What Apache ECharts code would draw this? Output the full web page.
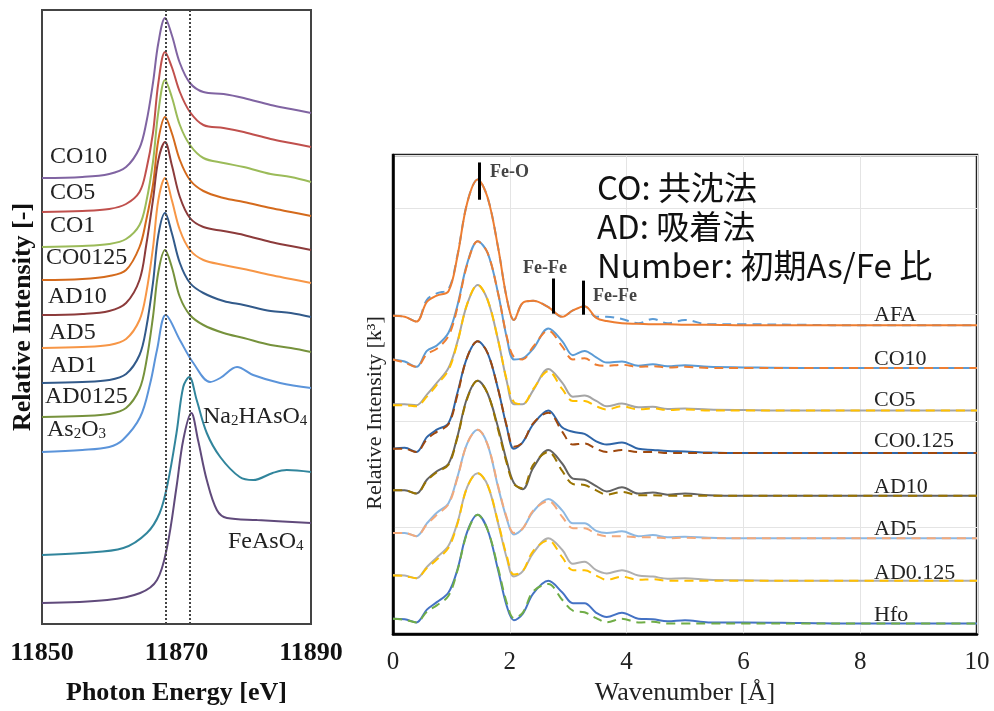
<!DOCTYPE html>
<html>
<head>
<meta charset="utf-8">
<script src="https://cdn.jsdelivr.net/npm/echarts@6/dist/echarts.min.js"></script>
<style>
  html, body { margin: 0; padding: 0; background: #fff; }
  #chart { width: 994px; height: 711px; }
</style>
</head>
<body>
<div id="chart"></div>
<script>
// ---- left panel: XANES spectra (stacked) ----
const energyGrid = [11850, 11856, 11860, 11862.5, 11864.5, 11865.5, 11866.5, 11867.3, 11868.3, 11869.3, 11870.5, 11872, 11874, 11877, 11880, 11884, 11887, 11890];
const co10 = [44.6, 44.7, 45.0, 45.7, 47.6, 50.1, 54.1, 58.1, 60.6, 58.9, 56.1, 54.1, 53.2, 53.0, 52.6, 51.9, 51.5, 51.1];
const co5 = [41.2, 41.3, 41.5, 42.0, 43.2, 45.4, 49.1, 54.1, 57.2, 55.7, 53.2, 51.2, 49.9, 49.6, 49.2, 48.5, 48.1, 47.7];
const co1 = [37.7, 37.8, 38.0, 38.5, 39.9, 42.2, 46.2, 51.2, 54.4, 52.7, 49.9, 47.9, 46.6, 46.1, 45.7, 45.0, 44.7, 44.2];
const co0125 = [34.4, 34.5, 34.8, 35.4, 37.7, 40.4, 43.9, 48.4, 50.7, 49.1, 46.4, 44.4, 43.3, 42.6, 42.2, 41.6, 41.2, 40.8];
const ad10 = [30.9, 31.0, 31.3, 32.1, 34.4, 37.9, 42.4, 46.4, 48.2, 45.9, 42.7, 40.6, 39.7, 39.3, 38.9, 38.2, 37.8, 37.4];
const ad5 = [27.6, 27.7, 27.9, 28.5, 30.4, 33.1, 37.6, 42.4, 44.6, 42.4, 39.4, 37.4, 36.4, 35.9, 35.5, 34.9, 34.5, 34.1];
const ad1 = [24.1, 24.2, 24.4, 25.0, 26.9, 29.6, 34.1, 38.9, 41.1, 39.1, 36.1, 34.1, 33.1, 32.3, 31.9, 31.3, 31.1, 30.7];
const ad0125 = [20.7, 20.8, 21.0, 21.6, 23.5, 26.2, 30.7, 35.2, 37.4, 35.7, 32.7, 30.9, 29.9, 29.1, 28.6, 27.9, 27.6, 27.2];

const as2o3Energy = [11850, 11856, 11860, 11862, 11864.6, 11866.1, 11867.1, 11868.4, 11870.5, 11872.5, 11875, 11876.5, 11879, 11881.4, 11885.4, 11890];
const as2o3 = [17.2, 17.4, 17.7, 18.4, 20.7, 24.1, 27.4, 30.9, 28.4, 26.1, 24.2, 24.6, 25.7, 24.9, 24.1, 23.6];

const na2hasEnergy = [11850, 11856, 11862.1, 11865.6, 11867.5, 11868.7, 11870, 11871, 11871.9, 11873, 11874.5, 11876.5, 11879.4, 11881.4, 11884.3, 11886.4, 11890];
const na2has = [6.9, 7.1, 7.6, 9.1, 11.1, 14.1, 19.1, 23.7, 24.7, 22.4, 19.1, 16.7, 14.7, 14.4, 15.1, 15.4, 15.2];

const feasEnergy = [11850, 11859.7, 11864.6, 11867.1, 11868.6, 11870, 11871, 11872.2, 11873.2, 11874.5, 11876, 11877.5, 11882, 11890];
const feas = [2.1, 2.4, 3.1, 4.4, 7.7, 13.7, 18.4, 21.1, 18.4, 14.4, 11.4, 10.6, 10.4, 10.1];

const edgeLines = [11868.4, 11872.0];
const energyTicks = [11850, 11870, 11890];

// ---- right panel: radial distribution (solid = measured, dashed = fit) ----
const rGrid = [0, 0.2, 0.4, 0.58, 0.75, 0.95, 1.1, 1.27, 1.45, 1.62, 1.8, 1.95, 2.07, 2.22, 2.4, 2.66, 2.9, 3.08, 3.28, 3.48, 3.66, 3.92, 4.2, 4.45, 4.7, 5.0, 5.4, 6, 7, 8, 9, 10];
const rdfNames = ['AFA', 'CO10', 'CO5', 'CO0.125', 'AD10', 'AD5', 'AD0.125', 'Hfo'];
const rdfOffsets = [29, 25, 21, 17, 13, 9, 5, 1];

const afaSolid = [0.9, 0.8, 0.35, 2.2, 2.8, 3.2, 6.4, 11.5, 13.7, 12.0, 7.3, 2.5, 0.5, 2.1, 2.3, 1.7, 0.8, 1.4, 1.8, 0.7, 0.4, 0.2, 0.15, 0.1, 0.1, 0.05, 0.05, 0, 0, 0, 0, 0];
const afaDash = [0.9, 0.8, 0.35, 2.4, 3.0, 3.4, 6.5, 11.5, 13.7, 12.0, 7.3, 2.5, 0.5, 2.1, 2.3, 1.7, 0.8, 1.4, 1.8, 0.8, 0.8, 0.6, 0.2, 0.6, 0.2, 0.5, 0.1, 0.1, 0.05, 0, 0, 0];
const co10Solid = [0.8, 0.6, 0.1, 1.6, 2.1, 3.3, 5.8, 9.8, 11.9, 10.8, 7.0, 2.8, 0.8, 0.9, 1.8, 3.7, 2.5, 1.2, 1.6, 1.0, 0.5, 0.6, 0.2, 0.35, 0.15, 0.25, 0.1, 0.05, 0, 0, 0, 0];
const co10Dash = [0.8, 0.5, 0.1, 1.3, 1.8, 3.0, 5.6, 9.7, 11.9, 10.8, 7.0, 2.9, 1.0, 0.8, 2.0, 3.5, 2.0, 0.8, 0.9, 0.3, 0.2, 0.3, 0.1, 0.15, 0.05, 0.1, 0, 0, 0, 0, 0, 0];
const co5Solid = [0.6, 0.6, 0.5, 1.5, 2.6, 4.0, 6.4, 10.0, 11.8, 10.4, 6.6, 2.7, 0.6, 0.6, 1.9, 3.9, 2.6, 1.3, 1.4, 0.9, 0.4, 0.65, 0.3, 0.35, 0.15, 0.2, 0.1, 0.05, 0, 0, 0, 0];
const co5Dash = [0.5, 0.5, 0.4, 1.3, 2.4, 3.8, 6.3, 10.0, 11.8, 10.4, 6.6, 2.8, 0.8, 0.6, 2.0, 3.7, 2.0, 0.9, 0.9, 0.4, 0.1, 0.4, 0.1, 0.2, 0.05, 0.1, 0, 0, 0, 0, 0, 0];
const co0125Solid = [0.4, 0.5, 0.1, 1.5, 2.2, 2.8, 5.6, 9.0, 10.5, 9.4, 6.0, 2.4, 0.4, 1.0, 2.7, 4.0, 2.4, 2.0, 1.8, 1.1, 0.8, 1.0, 0.4, 0.3, 0.2, 0.15, 0.05, 0, 0, 0, 0, 0];
const co0125Dash = [0.4, 0.4, 0.1, 1.3, 2.0, 2.7, 5.4, 9.0, 10.5, 9.4, 6.0, 2.5, 0.6, 1.0, 2.8, 3.8, 2.0, 0.8, 0.9, 0.4, 0.1, 0.3, 0.1, 0.1, 0, 0, 0, 0, 0, 0, 0, 0];
const ad10Solid = [0.5, 0.5, 0.2, 1.5, 2.3, 3.0, 5.5, 9.2, 10.8, 9.6, 6.4, 3.2, 1.2, 0.6, 2.6, 4.3, 3.0, 1.6, 1.5, 0.9, 0.4, 0.8, 0.2, 0.3, 0.1, 0.2, 0.05, 0, 0, 0, 0, 0];
const ad10Dash = [0.5, 0.5, 0.2, 1.4, 2.2, 2.9, 5.4, 9.1, 10.8, 9.6, 6.2, 3.0, 1.1, 0.7, 2.9, 4.1, 2.3, 1.1, 1.0, 0.5, 0.1, 0.35, 0.05, 0.05, 0, 0, 0, 0, 0, 0, 0, 0];
const ad5Solid = [0.5, 0.5, 0.2, 1.4, 2.4, 3.3, 5.7, 8.9, 10.2, 8.8, 4.8, 1.8, 0.35, 0.9, 2.5, 3.7, 2.6, 1.4, 1.4, 0.7, 0.5, 0.65, 0.2, 0.3, 0.1, 0.15, 0.05, 0, 0, 0, 0, 0];
const ad5Dash = [0.5, 0.5, 0.2, 1.3, 2.2, 3.2, 5.6, 8.9, 10.2, 8.8, 4.9, 1.9, 0.5, 0.9, 2.6, 3.5, 2.0, 0.95, 0.95, 0.4, 0.2, 0.2, 0.1, 0.1, 0, 0.05, 0, 0, 0, 0, 0, 0];
const ad0125Solid = [0.55, 0.5, 0.25, 1.3, 2.2, 3.3, 5.4, 8.8, 10.1, 9.0, 5.4, 2.1, 0.4, 0.9, 2.6, 4.0, 2.9, 1.6, 1.8, 1.0, 0.7, 1.0, 0.5, 0.4, 0.2, 0.25, 0.1, 0.05, 0, 0, 0, 0];
const ad0125Dash = [0.5, 0.45, 0.25, 1.2, 2.0, 3.1, 5.3, 8.8, 10.1, 9.0, 5.5, 2.3, 0.6, 0.9, 2.8, 3.8, 2.2, 1.0, 1.0, 0.5, 0.1, 0.4, 0.1, 0.15, 0, 0, 0, 0, 0, 0, 0, 0];
const hfoSolid = [0.45, 0.4, 0.1, 1.3, 2.0, 2.9, 5.0, 8.6, 10.2, 8.8, 5.0, 1.6, 0.3, 0.9, 2.8, 4.0, 2.9, 1.9, 1.9, 1.0, 0.6, 1.0, 0.45, 0.4, 0.2, 0.3, 0.1, 0.1, 0.05, 0, 0, 0];
const hfoDash = [0.45, 0.35, 0.1, 1.1, 1.7, 2.6, 4.9, 8.5, 10.2, 8.8, 5.2, 1.9, 0.5, 1.0, 3.0, 3.7, 2.2, 1.2, 1.05, 0.5, 0.1, 0.45, 0.1, 0.15, 0, 0, 0, 0, 0, 0, 0, 0];

// Fe-O / Fe-Fe marker positions [r, yLow, yHigh]
const shellMarkers = [[1.47, 40.8, 44.3], [2.74, 30.1, 33.4], [3.25, 30.0, 33.2]];

const chart = echarts.init(document.getElementById('chart'), null, { renderer: 'canvas' });

const serif = 'Liberation Serif';
const zip = (xs, ys) => xs.map((x, i) => [x, ys[i]]);
const shift = (ys, off) => ys.map(v => +(v + off).toFixed(3));

const leftSpectra = [
  { name: 'CO10', x: energyGrid, y: co10, color: '#8064A2' },
  { name: 'CO5', x: energyGrid, y: co5, color: '#C0504D' },
  { name: 'CO1', x: energyGrid, y: co1, color: '#9BBB59' },
  { name: 'CO0125', x: energyGrid, y: co0125, color: '#D46A1C' },
  { name: 'AD10', x: energyGrid, y: ad10, color: '#8C3B3B' },
  { name: 'AD5', x: energyGrid, y: ad5, color: '#F79646' },
  { name: 'AD1', x: energyGrid, y: ad1, color: '#325A8A' },
  { name: 'AD0125', x: energyGrid, y: ad0125, color: '#76923C' },
  { name: 'As2O3', x: as2o3Energy, y: as2o3, color: '#5B94DA' },
  { name: 'Na2HAsO4', x: na2hasEnergy, y: na2has, color: '#31859C' },
  { name: 'FeAsO4', x: feasEnergy, y: feas, color: '#604A7B' }
];

const rdfPairs = [
  { solid: afaSolid, dash: afaDash, sc: '#ED7D31', dc: '#5B9BD5', dashBelow: true },
  { solid: co10Solid, dash: co10Dash, sc: '#5B9BD5', dc: '#ED7D31' },
  { solid: co5Solid, dash: co5Dash, sc: '#A5A5A5', dc: '#FFC000' },
  { solid: co0125Solid, dash: co0125Dash, sc: '#2F65A7', dc: '#9E480E' },
  { solid: ad10Solid, dash: ad10Dash, sc: '#636363', dc: '#997300' },
  { solid: ad5Solid, dash: ad5Dash, sc: '#8DB8E2', dc: '#F4A97A' },
  { solid: ad0125Solid, dash: ad0125Dash, sc: '#AFAFAF', dc: '#FFC000' },
  { solid: hfoSolid, dash: hfoDash, sc: '#4472C4', dc: '#70AD47' }
];

const series = [];

leftSpectra.forEach((s, i) => {
  const item = {
    type: 'line', name: s.name, xAxisIndex: 0, yAxisIndex: 0,
    data: zip(s.x, s.y), symbol: 'none', smooth: 0.35,
    lineStyle: { color: s.color, width: 2 }, z: 3
  };
  if (i === 0) {
    item.markLine = {
      silent: true, symbol: ['none', 'none'], label: { show: false },
      lineStyle: { type: 'dotted', color: '#444', width: 2 },
      data: edgeLines.map(e => ({ xAxis: e }))
    };
  }
  series.push(item);
});

rdfPairs.forEach((p, i) => {
  const off = rdfOffsets[i];
  const solid = {
    type: 'line', name: rdfNames[i], xAxisIndex: 1, yAxisIndex: 1,
    data: zip(rGrid, shift(p.solid, off)), symbol: 'none', smooth: 0.35,
    lineStyle: { color: p.sc, width: 2 }, z: p.dashBelow ? 4 : 3
  };
  const dash = {
    type: 'line', name: rdfNames[i] + ' fit', xAxisIndex: 1, yAxisIndex: 1,
    data: zip(rGrid, shift(p.dash, off)), symbol: 'none', smooth: 0.35,
    lineStyle: { color: p.dc, width: 2, type: [9, 6] }, z: p.dashBelow ? 3 : 4
  };
  if (i === 0) {
    solid.markLine = {
      silent: true, symbol: ['none', 'none'], label: { show: false },
      lineStyle: { type: 'solid', color: '#000', width: 3 },
      data: shellMarkers.map(m => [{ coord: [m[0], m[1]] }, { coord: [m[0], m[2]] }])
    };
  }
  series.push(solid, dash);
});

const txt = (x, y, text, size, extra) => ({
  type: 'text', x: x, y: y, z: 20, silent: true,
  style: Object.assign({
    text: text, fill: '#222', fontFamily: serif, fontSize: size,
    align: 'left', verticalAlign: 'middle'
  }, extra || {})
});

const subRich = {
  sub: { fontFamily: serif, fontSize: 15, verticalAlign: 'bottom', fill: '#222' }
};

const leftLabels = [
  txt(50, 157, 'CO10', 24), txt(50, 193, 'CO5', 24), txt(50, 226, 'CO1', 24),
  txt(46, 258, 'CO0125', 24), txt(48, 297, 'AD10', 24), txt(49, 333, 'AD5', 24),
  txt(50, 366, 'AD1', 24), txt(45, 397, 'AD0125', 24),
  txt(47, 430, 'As{sub|2}O{sub|3}', 24, { rich: subRich }),
  txt(203, 417, 'Na{sub|2}HAsO{sub|4}', 24, { rich: subRich }),
  txt(228, 542, 'FeAsO{sub|4}', 24, { rich: subRich })
];

const rightLabelY = [315, 359, 400, 441, 487, 529, 573, 615];
const rightLabels = rdfNames.map((n, i) => txt(874, rightLabelY[i], n, 22));

const jp = 'Noto Sans CJK JP';
const notes = [
  txt(597, 187, 'CO: 共沈法', 33, { fontFamily: jp, fill: '#111' }),
  txt(597, 226, 'AD: 吸着法', 33, { fontFamily: jp, fill: '#111' }),
  txt(597, 265, 'Number: 初期As/Fe 比', 33, { fontFamily: jp, fill: '#111' }),
  txt(490, 172, 'Fe-O', 18, { fontWeight: 'bold', fill: '#444' }),
  txt(523, 268, 'Fe-Fe', 18, { fontWeight: 'bold', fill: '#444' }),
  txt(593, 296, 'Fe-Fe', 18, { fontWeight: 'bold', fill: '#444' }),
  {
    type: 'text', x: 375, y: 413, rotation: Math.PI / 2, silent: true, z: 20,
    style: {
      text: 'Relative Intensity [k³]', fill: '#222', fontFamily: serif, fontSize: 22,
      align: 'center', verticalAlign: 'middle'
    }
  }
];

const option = {
  animation: false,
  backgroundColor: '#fff',
  grid: [
    { left: 42, top: 10, width: 269, height: 614, show: true, borderColor: '#444', borderWidth: 2 },
    { left: 393, top: 155, width: 584, height: 484, show: true, borderColor: '#222', borderWidth: 2.5 }
  ],
  xAxis: [
    {
      gridIndex: 0, type: 'value', min: energyTicks[0], max: energyTicks[2], interval: 20,
      axisLine: { show: true, lineStyle: { color: '#444', width: 2 } },
      axisTick: { show: false }, splitLine: { show: false },
      axisLabel: {
        fontFamily: serif, fontWeight: 'bold', fontSize: 26, color: '#111', margin: 16,
        formatter: v => String(v)
      },
      name: 'Photon Energy [eV]', nameLocation: 'middle', nameGap: 56,
      nameTextStyle: { fontFamily: serif, fontWeight: 'bold', fontSize: 26, color: '#111' }
    },
    {
      gridIndex: 1, type: 'value', min: 0, max: 10, interval: 2,
      axisLine: { show: true, lineStyle: { color: '#000', width: 2.5 } },
      axisTick: { show: false },
      splitLine: { show: true, lineStyle: { color: '#e4e4e4', width: 1 } },
      axisLabel: { fontFamily: serif, fontSize: 25, color: '#222', margin: 16 },
      name: 'Wavenumber [Å]', nameLocation: 'middle', nameGap: 40,
      nameTextStyle: { fontFamily: serif, fontSize: 26, color: '#222' }
    }
  ],
  yAxis: [
    {
      gridIndex: 0, type: 'value', min: 0, max: 61.4,
      axisLine: { show: true, lineStyle: { color: '#444', width: 2 } },
      axisTick: { show: false }, axisLabel: { show: false }, splitLine: { show: false },
      name: 'Relative Intensity [-]', nameLocation: 'middle', nameGap: 6,
      nameTextStyle: { fontFamily: serif, fontWeight: 'bold', fontSize: 26, color: '#111' }
    },
    {
      gridIndex: 1, type: 'value', min: 0, max: 45, interval: 10,
      axisLine: { show: true, lineStyle: { color: '#000', width: 2.5 } },
      axisTick: { show: false }, axisLabel: { show: false },
      splitLine: { show: true, lineStyle: { color: '#e4e4e4', width: 1 } }
    }
  ],
  graphic: leftLabels.concat(rightLabels, notes),
  series: series
};

chart.setOption(option);
</script>
</body>
</html>
